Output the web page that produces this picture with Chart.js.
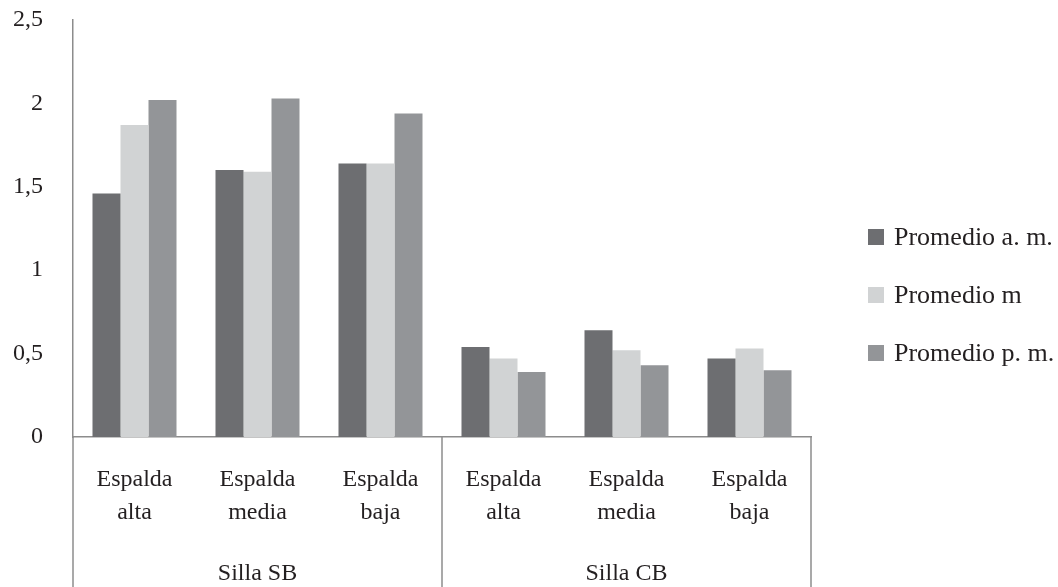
<!DOCTYPE html>
<html>
<head>
<meta charset="utf-8">
<script src="https://cdn.jsdelivr.net/npm/chart.js@4/dist/chart.umd.min.js"></script>
<style>
  html, body { margin: 0; padding: 0; background: #ffffff; }
  #wrap { width: 1058px; height: 587px; position: relative; }
</style>
</head>
<body>
<div id="wrap"><canvas id="chart" width="1058" height="587"></canvas></div>
<script>
// Categories (two-line labels) and their chair groups
const categories = [
  ["Espalda", "alta"], ["Espalda", "media"], ["Espalda", "baja"],
  ["Espalda", "alta"], ["Espalda", "media"], ["Espalda", "baja"]
];
const groups = ["Silla SB", "Silla CB"];
const groupSpans = [[0, 2], [3, 5]];

// Series
const seriesNames = ["Promedio a. m.", "Promedio m", "Promedio p. m."];
const promedioAM = [1.46, 1.60, 1.64, 0.54, 0.64, 0.47];
const promedioM  = [1.87, 1.59, 1.64, 0.47, 0.52, 0.53];
const promedioPM = [2.02, 2.03, 1.94, 0.39, 0.43, 0.40];
const seriesColors = ["#6d6e71", "#d1d3d4", "#939598"];

// Value axis ticks
const yTicks = [0, 0.5, 1, 1.5, 2, 2.5];

const FONT_FAMILY = "'Liberation Serif', 'DejaVu Serif', serif";
const TEXT_COLOR = "#231f20";
const AXIS_COLOR = "#8c8c8c";

// Draws the chair group labels, their separators and the legend
const groupAxisPlugin = {
  id: "groupAxis",
  afterDraw(chart) {
    const { ctx, chartArea, scales } = chart;
    const x = scales.x;
    const bottom = chart.height;
    const edges = [chartArea.left];
    groupSpans.forEach(([a, b], i) => {
      if (i < groupSpans.length - 1) {
        edges.push((x.getPixelForValue(b) + x.getPixelForValue(b + 1)) / 2);
      }
    });
    edges.push(chartArea.right);

    ctx.save();
    ctx.strokeStyle = AXIS_COLOR;
    ctx.lineWidth = 1.5;
    edges.forEach(px => {
      ctx.beginPath();
      ctx.moveTo(px, chartArea.bottom);
      ctx.lineTo(px, bottom);
      ctx.stroke();
    });

    ctx.fillStyle = TEXT_COLOR;
    ctx.font = "24px " + FONT_FAMILY;
    ctx.textAlign = "center";
    ctx.textBaseline = "alphabetic";
    groups.forEach((g, i) => {
      ctx.fillText(g, (edges[i] + edges[i + 1]) / 2, 580);
    });

    // Legend
    const legX = 868, legY0 = 237, legStep = 58, box = 16;
    ctx.textAlign = "left";
    ctx.textBaseline = "middle";
    ctx.font = "26px " + FONT_FAMILY;
    chart.data.datasets.forEach((ds, i) => {
      const cy = legY0 + i * legStep;
      ctx.fillStyle = ds.backgroundColor;
      ctx.fillRect(legX, cy - box / 2, box, box);
      ctx.fillStyle = TEXT_COLOR;
      ctx.fillText(ds.label, legX + 26, cy + 1);
    });
    ctx.restore();
  }
};

const seriesValues = [promedioAM, promedioM, promedioPM];

new Chart(document.getElementById("chart"), {
  type: "bar",
  data: {
    labels: categories,
    datasets: seriesNames.map((name, i) => ({
      label: name,
      data: seriesValues[i],
      backgroundColor: seriesColors[i],
      borderWidth: 0,
      categoryPercentage: 0.683,
      barPercentage: 1.0
    }))
  },
  options: {
    responsive: false,
    devicePixelRatio: 1,
    animation: false,
    layout: { padding: { top: 20, right: 247, bottom: 0, left: 0 } },
    plugins: {
      legend: { display: false },
      tooltip: { enabled: false }
    },
    scales: {
      x: {
        grid: { display: false, drawTicks: false },
        border: { display: true, color: AXIS_COLOR, width: 1.5 },
        ticks: {
          color: TEXT_COLOR,
          font: { family: FONT_FAMILY, size: 24, lineHeight: 1.38 },
          padding: 26,
          maxRotation: 0,
          autoSkip: false
        },
        afterFit(scale) {
          scale.height = 150;
          scale.paddingLeft = 0;
          scale.paddingRight = 0;
        }
      },
      y: {
        min: 0,
        max: 2.5,
        grid: { display: false, drawTicks: false },
        border: { display: true, color: AXIS_COLOR, width: 1.5 },
        afterBuildTicks(scale) { scale.ticks = yTicks.map(v => ({ value: v })); },
        ticks: {
          color: TEXT_COLOR,
          font: { family: FONT_FAMILY, size: 24 },
          padding: 30,
          callback: v => String(v).replace(".", ",")
        },
        afterFit(scale) {
          scale.width = 73;
          scale.paddingTop = 0;
          scale.paddingBottom = 0;
        }
      }
    }
  },
  plugins: [groupAxisPlugin]
});
</script>
</body>
</html>
